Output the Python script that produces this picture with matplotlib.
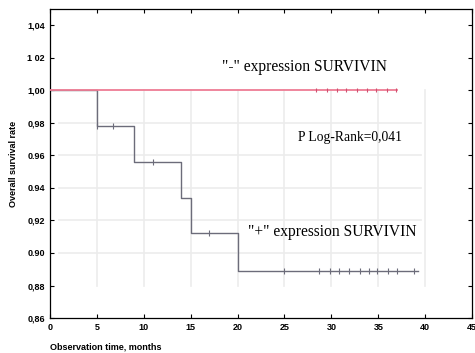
import numpy as np
import matplotlib
matplotlib.use("Agg")
import matplotlib.pyplot as plt

# Kaplan-Meier steps, "+" expression group
pos_t = [0, 5, 9, 14, 15, 20, 39.2]
pos_s = [1.0, 0.978, 0.956, 0.934, 0.912, 0.889, 0.889]
pos_cens_t = [5, 6.7, 11, 17, 25, 28.7, 29.8, 30.8, 31.9, 33, 34, 34.9, 36, 37, 38.8]
pos_cens_s = [0.978, 0.978, 0.956, 0.912, 0.889, 0.889, 0.889, 0.889, 0.889,
              0.889, 0.889, 0.889, 0.889, 0.889, 0.889]

# "-" expression group
neg_t = [0, 37]
neg_s = [1.0, 1.0]
neg_cens_t = [28.4, 29.5, 30.6, 31.6, 32.7, 33.8, 34.8, 35.9, 36.9]

xticks = [0, 5, 10, 15, 20, 25, 30, 35, 40, 45]
yticks = [0.86, 0.88, 0.90, 0.92, 0.94, 0.96, 0.98, 1.00, 1.02, 1.04]
ytick_labels = ["0,86", "0,88", "0.90", "0,92", "0.94", "0.96", "0,98", "1,00", "1 02", "1,04"]


def main():
    fig = plt.figure(figsize=(4.75, 3.53), dpi=100)
    ax = fig.add_axes([0.105, 0.099, 0.889, 0.876])

    # faint grid, only over the data area
    for yv in [0.90, 0.92, 0.94, 0.96, 0.98]:
        ax.plot([1, 39.5], [yv, yv], color="#ececec", lw=1.2, zorder=0)
    for xv in [5, 10, 15, 20, 25, 30, 35, 40]:
        ax.plot([xv, xv], [0.88, 1.0], color="#ececec", lw=1.2, zorder=0)

    ax.step(pos_t, pos_s, where="post", color="#6c6c7a", lw=1.0, zorder=2)
    ax.plot(pos_cens_t, pos_cens_s, "|", color="#6c6c7a", ms=4, mew=0.8, zorder=2)
    ax.plot(neg_t, neg_s, color="#ee7c94", lw=1.3, zorder=3)
    ax.plot(neg_cens_t, [1.0] * len(neg_cens_t), "|", color="#d05070",
            ms=3, mew=0.8, zorder=3)

    ax.set_xlim(0, 45)
    ax.set_ylim(0.86, 1.05)
    ax.set_xticks(xticks)
    ax.set_yticks(yticks)
    ax.set_yticklabels(ytick_labels)
    ax.tick_params(direction="in", top=True, right=True, length=3,
                   labelsize=6.5, width=0.8)
    for lab in ax.get_xticklabels() + ax.get_yticklabels():
        lab.set_fontweight("bold")
        lab.set_family("Liberation Sans")
    for sp in ax.spines.values():
        sp.set_linewidth(0.9)

    ax.set_xlabel("Observation time, months", fontsize=6.5, fontweight="bold",
                  family="Liberation Sans")
    ax.xaxis.set_label_coords(0.0, -0.08)
    ax.xaxis.label.set_horizontalalignment("left")
    ax.set_ylabel("Overall survival rate", fontsize=6.5, fontweight="bold",
                  family="Liberation Sans")
    ax.yaxis.set_label_coords(-0.075, 0.5)

    ax.text(18.3, 1.0145, '"-" expression SURVIVIN', fontsize=11.2,
            family="Liberation Serif", va="center")
    ax.text(26.4, 0.971, "P Log-Rank=0,041", fontsize=9.8,
            family="Liberation Serif", va="center")
    ax.text(21.1, 0.913, '"+" expression SURVIVIN', fontsize=11.2,
            family="Liberation Serif", va="center")

    fig.savefig("out.png", dpi=100)


if __name__ == "__main__":
    main()
